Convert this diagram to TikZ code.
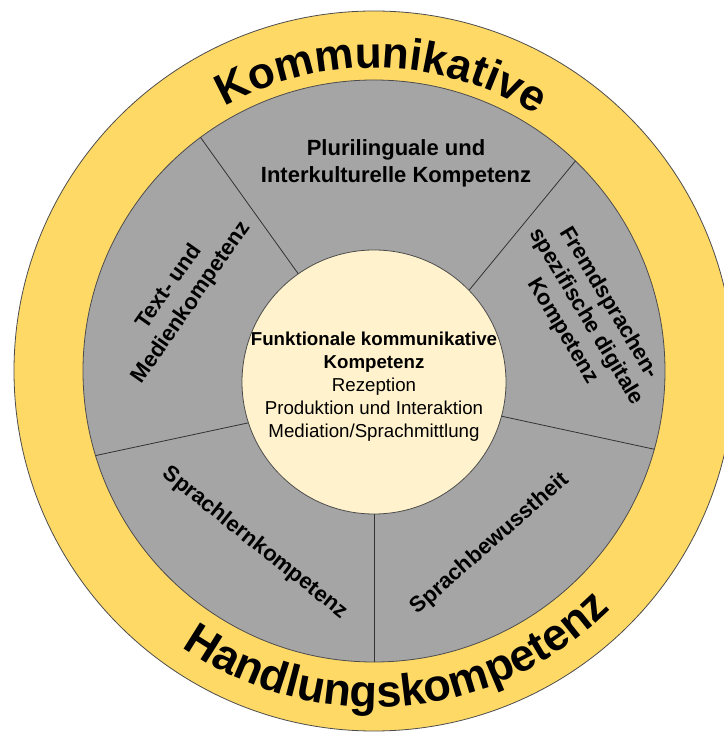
\documentclass[tikz,border=0pt]{standalone}
\usepackage{fontspec}
\setmainfont{Liberation Sans}
\usetikzlibrary{positioning, decorations.text}

\definecolor{ringyellow}{HTML}{FFD966}
\definecolor{sectorgray}{HTML}{A5A5A5}
\definecolor{corecream}{HTML}{FFF2CC}

\tikzset{
  sectortext/.style={font=\fontsize{22}{27}\selectfont\bfseries, align=center},
  divider/.style={draw=black!80, line width=0.8pt},
  rim/.style={draw=black!70, line width=0.8pt},
}

\begin{document}
\begin{tikzpicture}[x=1pt, y=1pt]
\useasboundingbox (-374,-364) rectangle (349,371);
\coordinate (o) at (0,0);
% yellow ring and grey disc
\draw[rim, fill=ringyellow] (o) circle (360);
\draw[rim, fill=sectorgray] (o) circle (291);
% core circle
\node[circle, rim, fill=corecream, minimum size=264pt, inner sep=0pt] (core) at (0,-11) {};
\node[font=\fontsize{18.7}{23}\selectfont, align=center] (coretext) at (0,-16)
  {\textbf{Funktionale kommunikative}\\\textbf{Kompetenz}\\Rezeption\\Produktion und Interaktion\\Mediation/Sprachmittlung};
% dividers between the sectors
\foreach \a/\b [count=\i] in {125/126.6, 44.1/46.2, 345.4/344.4, 198.8/196.9, 270/270}{
  \coordinate (d\i) at (\b:291);
  \draw[divider] (core.\a) -- (d\i);
}
% sector labels
\node[sectortext] (pluri) at (22,207.5) {Plurilinguale und\\Interkulturelle Kompetenz};
\node[sectortext, rotate=55] (medien) at (-193.5,76) {Text- und\\Medienkompetenz};
\node[sectortext, rotate=-59] (fremd) at (212,54) {Fremdsprachen-\\spezifische digitale\\Kompetenz};
\node[sectortext, rotate=-38.5] (lern) at (-119,-172) {Sprachlernkompetenz};
\node[sectortext, rotate=41.3] (bewusst) at (116,-173) {Sprachbewusstheit};
% ring text, top and bottom
\path[decorate, decoration={text along path, text align=center,
  text={|\fontsize{44}{44}\selectfont\bfseries|Kommunikative}}]
  (178.5:303) arc[start angle=178.5, end angle=-1.5, radius=303];
\path[decorate, decoration={text along path, text align=center,
  text={|\fontsize{45}{45}\selectfont\bfseries|Handlungskompetenz}}]
  (185:336) arc[start angle=185, end angle=365, radius=336];
\end{tikzpicture}
\end{document}
